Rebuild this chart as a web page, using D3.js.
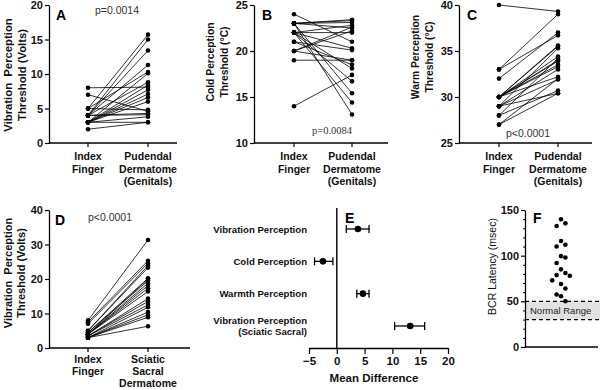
<!DOCTYPE html>
<html><head><meta charset="utf-8">
<script src="https://cdn.jsdelivr.net/npm/d3@7"></script>
<style>
body{margin:0;background:#fff;}
svg{display:block;font-family:"Liberation Sans",Arial,sans-serif;}
</style></head>
<body>
<svg id="chart" width="600" height="390"></svg>
<script>
// ---------- DATA ----------
const pairCategoriesA = ["Index\nFinger", "Pudendal\nDermatome\n(Genitals)"];
const pairCategoriesD = ["Index\nFinger", "Sciatic\nSacral\nDermatome"];

// Panel A: vibration perception threshold (Volts)
const vibIndex    = [8, 7, 5, 5, 4, 4, 4, 4, 4, 3, 3, 3, 3, 3, 3, 3, 2, 4, 5, 3];
const vibPudendal = [8.1, 4.6, 15.7, 10.3, 15.0, 13.4, 11.3, 8.8, 4.3, 10.1, 8.4, 7.7, 7.1, 6.6, 6.0, 3.8, 3.0, 4.1, 4.8, 3.0];
const ticksA = [0, 5, 10, 15, 20];

// Panel B: cold perception threshold (°C)
const coldIndex    = [24, 23, 23, 23, 23, 23, 22, 22, 22, 22, 22, 21, 21, 20, 20, 20, 19, 14, 23, 22];
const coldPudendal = [21.0, 23.4, 23.1, 22.5, 15.4, 13.1, 22.0, 20.3, 18.1, 16.7, 14.4, 20.1, 18.5, 22.6, 22.2, 19.0, 19.0, 17.4, 23.3, 22.8];
const ticksB = [10, 15, 20, 25];

// Panel C: warm perception threshold (°C)
const warmIndex    = [40, 33, 33, 32, 30, 30, 30, 30, 30, 30, 30, 29, 29, 29, 28, 28, 27, 27, 30, 29];
const warmPudendal = [39.3, 39.0, 36.7, 37.0, 35.6, 35.5, 34.4, 33.9, 33.5, 33.3, 32.2, 35.3, 31.9, 30.4, 34.2, 30.7, 32.0, 30.4, 34.0, 33.0];
const ticksC = [25, 30, 35, 40];

// Panel D: vibration perception threshold, sciatic sacral (Volts)
const vibIndexD   = [8, 7.5, 7, 5, 5, 4.5, 4.5, 4, 4, 4, 4, 3.5, 3.5, 3.5, 3, 3, 3, 3, 3, 4];
const vibSciatic  = [31.3, 25.3, 24.6, 23.9, 23.3, 20.2, 19.5, 18.8, 18.1, 17.3, 16.4, 14.3, 13.5, 12.5, 11.8, 10.4, 9.6, 8.9, 6.3, 20.0];
const ticksD = [0, 10, 20, 30, 40];

// Panel E: mean difference with 95% CI
const eLabels = ["Vibration Perception", "Cold Perception", "Warmth Perception", "Vibration Perception\n(Sciatic Sacral)"];
const eMean = [3.8, -2.5, 4.7, 13.2];
const eLow  = [1.7, -4.0, 3.6, 10.4];
const eHigh = [5.8, -0.7, 5.8, 15.8];
const ticksE = [-5, 0, 5, 10, 15, 20];

// Panel F: BCR latency (msec)
const bcrLatency = [139.8, 135.4, 132.5, 116, 112, 110, 99.5, 98, 92, 85, 81, 78.7, 78, 73, 69, 64, 57.4, 55.6, 50.1];
const normalRange = [30, 50];
const ticksF = [0, 50, 100, 150];

// ---------- DRAWING ----------
const svg = d3.select("#chart");
const FONT = '"Liberation Sans",Arial,sans-serif';

function multiText(g, x, y, str, lh, anchor, size, weight, family) {
  const t = g.append("text").attr("x", x).attr("y", y)
    .attr("text-anchor", anchor).attr("font-size", size)
    .attr("font-weight", weight || "normal").attr("fill", "#111");
  if (family) t.attr("font-family", family);
  str.split("\n").forEach((s, i) => {
    t.append("tspan").attr("x", x).attr("dy", i === 0 ? 0 : lh).text(s);
  });
  return t;
}

function styleAxis(g) {
  g.select(".domain").attr("stroke", "#000").attr("stroke-width", 1.3);
  g.selectAll(".tick line").attr("stroke", "#000").attr("stroke-width", 1.2);
  g.selectAll(".tick text").attr("font-size", 11).attr("font-weight", "bold")
    .attr("fill", "#111").attr("font-family", FONT);
}

function pairedPanel(cfg) {
  const g = svg.append("g");
  const y = d3.scaleLinear().domain(cfg.domain).range([cfg.yBottom, cfg.yTop]);
  const x = d3.scalePoint().domain(cfg.cats).range([cfg.x0 + cfg.c1, cfg.x0 + cfg.c2]);
  cfg.a.forEach((v, i) => {
    g.append("line")
      .attr("x1", x(cfg.cats[0])).attr("y1", y(v))
      .attr("x2", x(cfg.cats[1])).attr("y2", y(cfg.b[i]))
      .attr("stroke", "#000").attr("stroke-width", 0.8);
  });
  [cfg.a, cfg.b].forEach((arr, k) => {
    g.selectAll(null).data(arr).enter().append("circle")
      .attr("cx", x(cfg.cats[k])).attr("cy", d => y(d)).attr("r", 2.3).attr("fill", "#000");
  });
  const ya = g.append("g").attr("transform", `translate(${cfg.x0},0)`)
    .call(d3.axisLeft(y).tickValues(cfg.ticks).tickSize(4).tickPadding(2).tickSizeOuter(0));
  styleAxis(ya);
  const xa = g.append("g").attr("transform", `translate(0,${cfg.yBottom})`);
  xa.append("line").attr("x1", cfg.x0).attr("x2", cfg.xEnd).attr("y1", 0).attr("y2", 0)
    .attr("stroke", "#000").attr("stroke-width", 1.3);
  cfg.cats.forEach(c => {
    xa.append("line").attr("x1", x(c)).attr("x2", x(c)).attr("y1", 0).attr("y2", 4)
      .attr("stroke", "#000").attr("stroke-width", 1.2);
    multiText(g, x(c), cfg.yBottom + cfg.catOff, c, cfg.catLH, "middle", 10.5, "bold");
  });
  const lab = g.append("g").attr("transform", `translate(${cfg.labX},${cfg.labY}) rotate(-90)`);
  cfg.label.forEach((s, i) => {
    lab.append("text").attr("x", 0).attr("y", i * cfg.labLH).attr("text-anchor", "middle")
      .attr("font-size", cfg.labSize).attr("font-weight", "bold").attr("fill", "#111")
      .attr("xml:space", "preserve").text(s);
  });
  g.append("text").attr("x", cfg.letterX).attr("y", cfg.letterY).attr("font-size", 14)
    .attr("font-weight", "bold").attr("fill", "#000").text(cfg.letter);
  g.append("text").attr("x", cfg.pX).attr("y", cfg.pY).attr("text-anchor", "middle")
    .attr("font-size", 10.5).attr("fill", "#333")
    .attr("font-family", cfg.pFamily || FONT).text(cfg.p);
}

pairedPanel({cats: pairCategoriesA, a: vibIndex, b: vibPudendal, domain: [0, 20], ticks: ticksA,
  x0: 49, xEnd: 177, c1: 39, c2: 99, yTop: 5, yBottom: 143, catOff: 17, catLH: 12.5,
  label: ["Vibration  Perception", "Threshold (Volts)"], labX: 12, labY: 75, labLH: 13.5, labSize: 11.3,
  letter: "A", letterX: 56, letterY: 20, p: "p=0.0014", pX: 117, pY: 14});

pairedPanel({cats: pairCategoriesA, a: coldIndex, b: coldPudendal, domain: [10, 25], ticks: ticksB,
  x0: 254, xEnd: 388, c1: 40, c2: 98, yTop: 5, yBottom: 143, catOff: 17, catLH: 12.5,
  label: ["Cold Perception", "Threshold (°C)"], labX: 214, labY: 62, labLH: 14, labSize: 10.3,
  letter: "B", letterX: 262, letterY: 20, p: "p=0.0084", pX: 332, pY: 134,
  pFamily: '"Liberation Serif","Times New Roman",serif'});

pairedPanel({cats: pairCategoriesA, a: warmIndex, b: warmPudendal, domain: [25, 40], ticks: ticksC,
  x0: 459, xEnd: 592, c1: 40, c2: 99, yTop: 5, yBottom: 143, catOff: 17, catLH: 12.5,
  label: ["Warm Perception", "Threshold (°C)"], labX: 419, labY: 57, labLH: 13.5, labSize: 10.3,
  letter: "C", letterX: 467, letterY: 20, p: "p<0.0001", pX: 528, pY: 137});

pairedPanel({cats: pairCategoriesD, a: vibIndexD, b: vibSciatic, domain: [0, 40], ticks: ticksD,
  x0: 49, xEnd: 190, c1: 39, c2: 99, yTop: 210, yBottom: 348, catOff: 15, catLH: 12,
  label: ["Vibration  Perception", "Threshold (Volts)"], labX: 12, labY: 273, labLH: 12.5, labSize: 11,
  letter: "D", letterX: 55, letterY: 225, p: "p<0.0001", pX: 110, pY: 221});

// ---------- Panel E ----------
(function () {
  const g = svg.append("g");
  const x = d3.scaleLinear().domain([-5, 20]).range([309, 448]);
  const y = d3.scalePoint().domain(d3.range(eLabels.length)).range([229, 326]);
  const zeroX = x(0);
  g.append("line").attr("x1", zeroX).attr("x2", zeroX).attr("y1", 208).attr("y2", 348)
    .attr("stroke", "#000").attr("stroke-width", 1.4);
  const xa = g.append("g").attr("transform", "translate(0,348)")
    .call(d3.axisBottom(x).tickValues(ticksE).tickSize(6).tickPadding(3).tickSizeOuter(0));
  styleAxis(xa);
  xa.selectAll(".tick text").attr("font-size", 11.5);
  eMean.forEach((m, i) => {
    const cy = y(i);
    g.append("line").attr("x1", x(eLow[i])).attr("x2", x(eHigh[i])).attr("y1", cy).attr("y2", cy)
      .attr("stroke", "#000").attr("stroke-width", 1.3);
    [eLow[i], eHigh[i]].forEach(v => {
      g.append("line").attr("x1", x(v)).attr("x2", x(v)).attr("y1", cy - 4).attr("y2", cy + 4)
        .attr("stroke", "#000").attr("stroke-width", 1.3);
    });
    g.append("circle").attr("cx", x(m)).attr("cy", cy).attr("r", 3.3).attr("fill", "#000");
    const lines = eLabels[i].split("\n");
    const startY = cy + 3.5 - (lines.length - 1) * 10.5 / 2;
    multiText(g, 307, startY, eLabels[i], 10.5, "end", 9.6, "bold");
  });
  g.append("text").attr("x", 374).attr("y", 382).attr("text-anchor", "middle")
    .attr("font-size", 11.5).attr("font-weight", "bold").attr("fill", "#111").text("Mean Difference");
  g.append("text").attr("x", 345).attr("y", 223).attr("font-size", 14)
    .attr("font-weight", "bold").attr("fill", "#000").text("E");
})();

// ---------- Panel F ----------
(function () {
  const g = svg.append("g");
  const x0 = 525, xEnd = 598;
  const y = d3.scaleLinear().domain([0, 150]).range([347, 210]);
  g.append("rect").attr("x", x0).attr("width", 600 - x0)
    .attr("y", y(normalRange[1])).attr("height", y(normalRange[0]) - y(normalRange[1]))
    .attr("fill", "#e2e2e2");
  normalRange.forEach(v => {
    g.append("line").attr("x1", x0).attr("x2", 600).attr("y1", y(v)).attr("y2", y(v))
      .attr("stroke", "#000").attr("stroke-width", 1.3).attr("stroke-dasharray", "4,3");
  });
  g.append("text").attr("x", 530).attr("y", y(d3.mean(normalRange)) + 3.5)
    .attr("font-size", 9.5).attr("fill", "#222").text("Normal Range");
  // beeswarm placement
  const cx = 561, step = 4.4, minDy = 11;
  const sorted = bcrLatency.slice().sort((a, b) => b - a);
  const placed = [];
  const order = [0, 1, -1, 2, -2, 3, -3];
  sorted.forEach(v => {
    const py = y(v);
    for (const k of order) {
      if (placed.every(p => p.k !== k || Math.abs(p.y - py) >= minDy)) {
        placed.push({k, y: py}); break;
      }
    }
  });
  g.selectAll(null).data(placed).enter().append("circle")
    .attr("cx", d => cx + d.k * step).attr("cy", d => d.y).attr("r", 2.3).attr("fill", "#000");
  const ya = g.append("g").attr("transform", `translate(${x0},0)`)
    .call(d3.axisLeft(y).tickValues(ticksF).tickSize(4).tickPadding(2).tickSizeOuter(0));
  styleAxis(ya);
  g.append("g").attr("transform", `translate(${x0},0)`)
    .call(d3.axisLeft(y).tickValues(d3.range(0, 151, 10).filter(v => v % 50 !== 0)).tickSize(2).tickFormat(""))
    .call(s => { s.select(".domain").remove(); s.selectAll("line").attr("stroke", "#000"); });
  g.append("line").attr("x1", x0).attr("x2", xEnd).attr("y1", 347).attr("y2", 347)
    .attr("stroke", "#000").attr("stroke-width", 1.3);
  g.append("text").attr("transform", `translate(496,${(y(0) + y(150)) / 2 - 12}) rotate(-90)`)
    .attr("text-anchor", "middle").attr("font-size", 10.5).attr("fill", "#111").text("BCR Latency (msec)");
  g.append("text").attr("x", 533).attr("y", 223).attr("font-size", 14)
    .attr("font-weight", "bold").attr("fill", "#000").text("F");
})();
</script>
</body></html>
